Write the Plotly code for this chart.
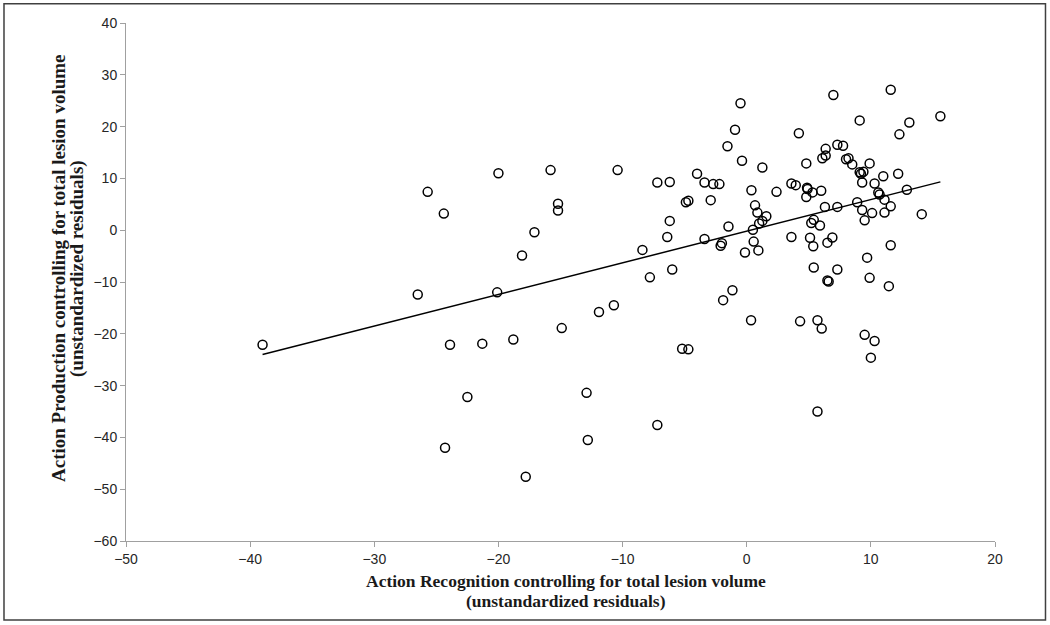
import numpy as np
import plotly.graph_objects as go

# Scatter data (x: Action Recognition residuals, y: Action Production residuals)
x_vals = [
    -39.0, -25.7, -24.4, -20.0, -15.8, -15.2, -15.2, -17.1, -18.1, -26.5, -20.1, -11.9, -14.9,
    -23.9, -21.3, -18.8, -22.5, -12.9, -24.3, -12.8, -17.8,
    -0.5, -0.94, -1.55, -0.38, 1.26, 2.4, 0.38, -10.4, -7.2, -6.2, -4.0, -3.4, -2.7, -2.2,
    -2.9, -4.9, -4.7, -6.2, -6.4, -8.4, -1.47, -3.4, -2.1, -2.0, -0.14, 0.94, 0.56, 0.5,
    1.0, 1.26, 1.58, 0.86, 0.67, -6.0,
    6.98, 11.6, 15.6, 13.1, 9.1, 12.3, 4.2, 7.3, 7.76, 6.36, 6.09, 6.36, 8.0, 8.2, 8.5,
    9.9, 4.8, 9.1, 9.4, 9.2, 12.2, 11.0, 9.3, 10.3, 3.6, 3.95, 4.86, 4.9, 4.8, 5.3, 6.0,
    10.6, 10.7, 11.1, 12.9, 6.3, 7.3, 8.9, 9.3, 11.6, 10.1, 11.1, 9.5, 14.1, 5.4, 5.2,
    5.9, 3.6, 5.1, 5.36, 6.9, 6.5, 11.6, 9.7, 5.4, 7.3,
    6.5, 6.6, 9.9, 11.45, -7.8, -10.7, -1.9, -1.15, 0.35, -5.2, -4.7, 4.3, 5.7, 6.04,
    9.5, 10.3, 10.0, 5.7, -7.2,
]
y_vals = [
    -22.1, 7.4, 3.2, 11.0, 11.6, 5.1, 3.8, -0.4, -4.9, -12.4, -12.0, -15.8, -18.9,
    -22.1, -21.9, -21.1, -32.2, -31.4, -42.0, -40.5, -47.6,
    24.5, 19.4, 16.2, 13.4, 12.1, 7.4, 7.7, 11.6, 9.2, 9.3, 10.9, 9.2, 8.9, 8.9,
    5.8, 5.4, 5.7, 1.8, -1.3, -3.8, 0.7, -1.7, -3.0, -2.5, -4.3, -3.9, -2.2, 0.1,
    1.3, 1.8, 2.7, 3.4, 4.8, -7.6,
    26.1, 27.1, 22.0, 20.8, 21.2, 18.5, 18.7, 16.5, 16.3, 15.7, 13.9, 14.4, 13.7, 13.9, 12.7,
    12.9, 12.9, 11.2, 11.3, 10.9, 10.9, 10.4, 9.2, 9.0, 9.0, 8.7, 8.2, 7.95, 6.4, 7.3, 7.6,
    7.3, 6.9, 5.9, 7.8, 4.5, 4.5, 5.4, 3.9, 4.6, 3.3, 3.4, 1.9, 3.1, 2.0, 1.4,
    0.9, -1.3, -1.45, -3.1, -1.4, -2.4, -2.9, -5.3, -7.2, -7.6,
    -9.7, -9.9, -9.2, -10.8, -9.1, -14.5, -13.5, -11.6, -17.4, -22.9, -23.0, -17.6, -17.4, -19.0,
    -20.2, -21.4, -24.6, -35.0, -37.6,
]

x_ticks = [-50, -40, -30, -20, -10, 0, 10, 20]
y_ticks = [-60, -50, -40, -30, -20, -10, 0, 10, 20, 30, 40]

x_title_lines = ["Action Recognition controlling for total lesion volume", "(unstandardized residuals)"]
y_title_lines = ["Action Production controlling for total lesion volume", "(unstandardized residuals)"]

xa = np.array(x_vals)
ya = np.array(y_vals)
slope, intercept = np.polyfit(xa, ya, 1)
line_x = np.array([xa.min(), xa.max()])
line_y = slope * line_x + intercept

fig = go.Figure()
fig.add_trace(go.Scatter(
    x=x_vals, y=y_vals, mode="markers",
    marker=dict(symbol="circle-open", size=9, color="black", line=dict(width=1.5, color="black")),
    showlegend=False, hoverinfo="x+y",
))
fig.add_trace(go.Scatter(
    x=line_x, y=line_y, mode="lines",
    line=dict(color="black", width=1.5),
    showlegend=False, hoverinfo="skip",
))

axis_common = dict(
    showgrid=False, zeroline=False, showline=True, linecolor="#a0a0a0", linewidth=1,
    ticks="outside", ticklen=5, tickcolor="#a0a0a0", tickwidth=1,
    tickfont=dict(family="Liberation Sans, Arial", size=14, color="#262626"),
)

x_title_font = dict(family="Liberation Serif, Times New Roman", size=17.5, color="#1a1a1a", weight="bold")
y_title_font = dict(family="Liberation Serif, Times New Roman", size=19, color="#1a1a1a", weight="bold")

annotations = []
for text, yp in zip(x_title_lines, [-0.0773, -0.1159]):
    annotations.append(dict(text=text, xref="paper", yref="paper", x=0.5058, y=yp,
                            xanchor="center", yanchor="middle", showarrow=False, font=x_title_font))
for text, xp in zip(y_title_lines, [-0.0783, -0.0564]):
    annotations.append(dict(text=text, xref="paper", yref="paper", x=xp, y=0.527,
                            xanchor="center", yanchor="middle", showarrow=False, textangle=-90,
                            font=y_title_font))

fig.update_layout(
    width=1050, height=625,
    margin=dict(l=126, r=55, t=23, b=84),
    paper_bgcolor="white", plot_bgcolor="white",
    xaxis=dict(range=[-50, 20], tickvals=x_ticks, **axis_common),
    yaxis=dict(range=[-60, 40], tickvals=y_ticks, **axis_common),
    annotations=annotations,
    shapes=[dict(type="rect", xref="paper", yref="paper",
                 x0=-0.1404, x1=1.0581, y0=-0.1526, y1=1.0373,
                 line=dict(color="#404040", width=1.5))],
)

fig.write_html("out.html", config={"displayModeBar": False},
               post_script="document.body.style.margin='0px';")
